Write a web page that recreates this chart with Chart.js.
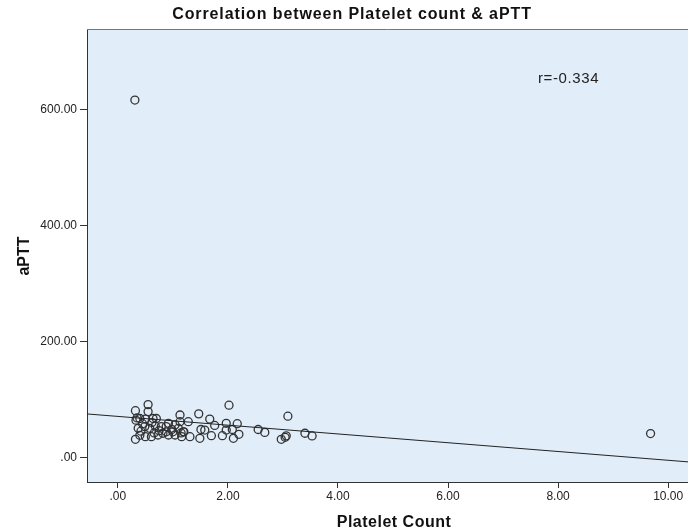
<!DOCTYPE html>
<html><head><meta charset="utf-8">
<script src="https://cdn.jsdelivr.net/npm/chart.js@4/dist/chart.umd.min.js"></script>
<style>html,body{margin:0;padding:0;background:#fff;} #wrap{width:688px;height:531px;}</style>
</head><body><div id="wrap"><canvas id="c" width="688" height="531"></canvas></div>
<script>
const chartTitle = 'Correlation between Platelet count & aPTT';
const xAxisTitle = 'Platelet Count';
const yAxisTitle = 'aPTT';
const rLabel = 'r=-0.334';
const plateletCount = [0.32,0.55,0.55,0.32,0.33,0.40,0.50,0.64,0.70,0.37,0.42,0.49,0.58,0.68,0.79,0.88,0.92,1.04,1.13,1.10,0.98,0.82,0.73,0.61,0.50,0.40,0.92,1.04,1.16,0.62,0.75,0.88,1.00,0.45,0.66,1.20,0.35,
  1.13,1.47,1.67,1.28,1.97,2.17,1.76,1.51,1.58,1.97,2.08,1.19,1.31,1.49,1.70,1.90,2.10,2.20,2.02,1.15,
  2.55,2.67,3.09,2.97,3.04,3.06,3.40,3.53,0.31,9.68];
const aptt = [80.5,91,79,31,64,67,66,67,67,50,45,53,50,54,53,53,58.7,56,61.5,50,48,41.5,38.5,35.6,35.6,38,38.5,38.5,35.6,60,46,44,44,58,42,44,68,
  73,75,66,61.5,58.7,58,55,48,47,47,48,44,35.6,32.8,37.3,37.3,32.8,39.7,90,42,
  48,43,71,31,34.5,37,41.5,36.8,617,41];
const xTicks = [0,2,4,6,8,10];
const yTicks = [0,200,400,600];
const xRange = [-0.56, 10.36];
const yRange = [-42.7, 739.7];
const fitIntercept = 70.6;
const fitSlope = -7.58;

function fmt(v){ return v === 0 ? '.00' : Number(v).toFixed(2); }
const FONT = '"Liberation Sans", Arial, sans-serif';

const decor = {
  id: 'decor',
  beforeDraw(chart){
    const {ctx, chartArea:a} = chart;
    ctx.save();
    ctx.fillStyle = '#e2edfa';
    ctx.fillRect(a.left, a.top, a.right - a.left, a.bottom - a.top);
    ctx.restore();
  },
  afterDraw(chart){
    const {ctx, chartArea:a} = chart;
    ctx.save();
    ctx.strokeStyle = '#777';
    ctx.lineWidth = 1;
    ctx.beginPath();
    ctx.moveTo(a.left, a.top + 0.5);
    ctx.lineTo(a.right, a.top + 0.5);
    ctx.stroke();
    ctx.fillStyle = '#111';
    ctx.textAlign = 'center';
    ctx.textBaseline = 'alphabetic';
    ctx.font = 'bold 16px ' + FONT;
    ctx.letterSpacing = '0.9px';
    ctx.fillText(chartTitle, 352, 19);
    ctx.font = 'bold 16px ' + FONT;
    ctx.letterSpacing = '0.5px';
    ctx.fillText(xAxisTitle, 394, 527);
    ctx.save();
    ctx.translate(29, 256);
    ctx.rotate(-Math.PI/2);
    ctx.letterSpacing = '0px';
    ctx.fillText(yAxisTitle, 0, 0);
    ctx.restore();
    ctx.textAlign = 'left';
    ctx.font = '15px ' + FONT;
    ctx.letterSpacing = '0.6px';
    ctx.fillStyle = '#222';
    ctx.fillText(rLabel, 538, 83);
    ctx.restore();
  }
};

new Chart(document.getElementById('c'), {
  type: 'scatter',
  data: {
    datasets: [
      {
        type: 'line',
        data: xRange.map(x => ({x: x, y: fitIntercept + fitSlope * x})),
        borderColor: '#222',
        borderWidth: 1,
        pointRadius: 0,
        fill: false
      },
      {
        data: plateletCount.map((x, i) => ({x: x, y: aptt[i]})),
        pointRadius: 4,
        pointBorderWidth: 1.3,
        borderColor: '#333',
        pointBorderColor: '#333',
        backgroundColor: 'rgba(0,0,0,0)',
        pointBackgroundColor: 'rgba(0,0,0,0)',
        showLine: false
      }
    ]
  },
  options: {
    responsive: false,
    animation: false,
    devicePixelRatio: 1,
    layout: { autoPadding: false, padding: { top: 29, left: 0, right: 0, bottom: 0 } },
    plugins: { legend: { display: false }, tooltip: { enabled: false }, title: { display: false } },
    scales: {
      x: {
        type: 'linear', min: xRange[0], max: xRange[1],
        afterBuildTicks: s => { s.ticks = xTicks.map(v => ({value: v})); },
        afterFit: s => { s.height = 49; s.paddingRight = 0; s.paddingLeft = 0; },
        ticks: { callback: v => fmt(v), font: { size: 12, family: FONT }, color: '#222', padding: 1, maxRotation: 0, autoSkip: false },
        grid: { drawOnChartArea: false, drawTicks: true, tickLength: 6, color: '#333' },
        border: { display: true, color: '#333', width: 1 }
      },
      y: {
        type: 'linear', min: yRange[0], max: yRange[1],
        afterBuildTicks: s => { s.ticks = yTicks.map(v => ({value: v})); },
        afterFit: s => { s.width = 87; s.paddingTop = 0; s.paddingBottom = 0; },
        ticks: { callback: v => fmt(v), font: { size: 12, family: FONT }, color: '#222', padding: 3, autoSkip: false },
        grid: { drawOnChartArea: false, drawTicks: true, tickLength: 7, color: '#333' },
        border: { display: true, color: '#333', width: 1 }
      }
    }
  },
  plugins: [decor]
});
</script></body></html>
